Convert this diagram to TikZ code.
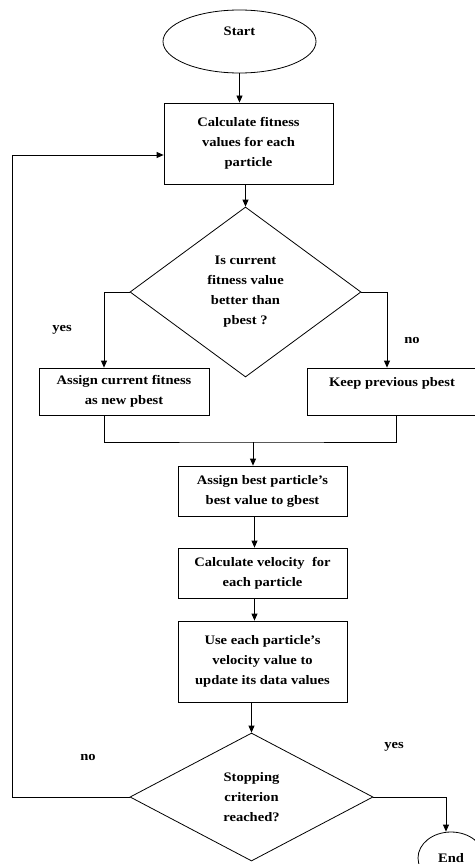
\documentclass[tikz,border=0pt]{standalone}
\usepackage{fontspec}
\setmainfont{Liberation Serif}[FakeStretch=1.12]
\usetikzlibrary{positioning}
\usetikzlibrary{arrows.meta}
\usetikzlibrary{shapes.geometric}

\begin{document}
\begin{tikzpicture}[
  x=1pt, y=-1pt,
  line/.style = {line width=0.8pt, color=black},
  arrow/.style = {line, -{Triangle[length=7pt,width=6pt]}},
  txt/.style = {font=\fontsize{13}{20}\selectfont\bfseries, align=center, inner sep=0pt},
  box/.style = {txt, draw, line width=0.8pt, minimum width=169pt},
  decision/.style = {txt, draw, line width=0.8pt, diamond},
  terminal/.style = {txt, draw, line width=0.8pt, ellipse},
  tag/.style = {txt},
]

  \useasboundingbox (0,0) rectangle (474,864);

  \node[terminal, minimum width=153pt, minimum height=63pt] (start) at (239.5,41.5) {Start\\ \mbox{}};
  \node[box, minimum height=81pt] (box1) at (248.5,143.5) {Calculate fitness\\values for each\\particle};
  \node[decision, minimum width=231pt, minimum height=170pt, aspect=1.36] (dec1) at (245.5,292)
    {Is current\\fitness value\\better than\\pbest ?};
  \node[box, minimum width=170pt, minimum height=47pt] (box2) at (124,391.5) {Assign current fitness\\as new pbest};
  \node[box, minimum width=170pt, minimum height=47pt] (box3) at (392,391.5) {Keep previous pbest\\ \mbox{}};
  \node[box, minimum height=50pt] (box4) at (262.5,491) {Assign best particle's\\best value to gbest};
  \node[box, minimum height=50pt] (box5) at (262.5,573) {Calculate velocity\ \ for\\each particle};
  \node[box, minimum height=81pt] (box6) at (262.5,661.5) {Use each particle's\\velocity value to\\update its data values};
  \node[decision, minimum width=243pt, minimum height=128pt, aspect=1.9] (dec2) at (251.5,797)
    {Stopping\\criterion\\reached?};
  \node[terminal, minimum width=66pt, minimum height=52pt] (end) at (451,858) {End};

  \node[tag] (yes1) at (62,330) {yes};
  \node[tag] (no1) at (412,340) {no};
  \node[tag] (no2) at (88,757) {no};
  \node[tag] (yes2) at (394,747) {yes};

  \coordinate (join) at (253,442);

  \draw[arrow] (start.south) -- (start.south |- box1.north);
  \draw[arrow] (box1.south -| dec1.north) -- (dec1.north);
  \draw[arrow] (dec1.west) -| ([xshift=-20pt]box2.north);
  \draw[arrow] (dec1.east) -| ([xshift=-5pt]box3.north);
  \draw[line] ([xshift=-20pt]box2.south) |- (join) -| ([xshift=4pt]box3.south);
  \draw[arrow] (join) -- (join |- box4.north);
  \draw[arrow] ([xshift=-8pt]box4.south) -- ([xshift=-8pt]box5.north);
  \draw[arrow] ([xshift=-8pt]box5.south) -- ([xshift=-8pt]box6.north);
  \draw[arrow] (box6.south -| dec2.north) -- (dec2.north);
  \draw[arrow] (dec2.west) -- ++(-117,0) |- ([yshift=-11.5pt]box1.west);
  \draw[arrow] (dec2.east) -| ([xshift=-5pt]end.north);

\end{tikzpicture}
\end{document}
